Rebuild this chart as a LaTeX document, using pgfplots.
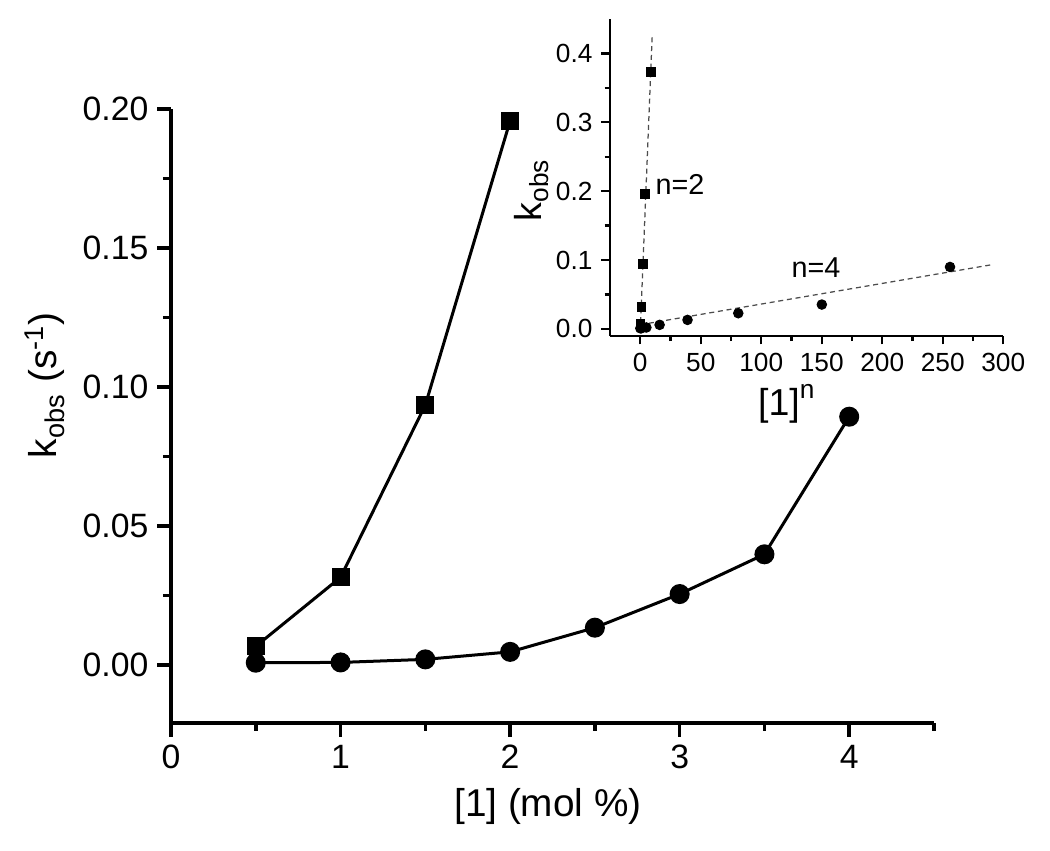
\documentclass[border=0pt]{standalone}
\usepackage{pgfplots}
\pgfplotsset{compat=1.18}
\usepackage{fontspec}
\setmainfont{Liberation Sans}

\begin{document}
\begin{tikzpicture}
\path[use as bounding box] (0,0) rectangle (420pt,340pt);

% ---------------- main axis ----------------
\begin{axis}[
  at={(68.4pt,50.9pt)}, anchor=south west,
  scale only axis, width=305.2pt, height=245.5pt,
  xmin=0, xmax=4.5, ymin=-0.0208, ymax=0.2,
  axis x line*=bottom, axis y line*=left,
  axis line style={line width=1.4pt,-},
  xtick={0,1,2,3,4}, minor xtick={0.5,1.5,2.5,3.5,4.5},
  ytick={0,0.05,0.1,0.15,0.2}, minor ytick={0.025,0.075,0.125,0.175},
  tick align=outside, major tick length=5.5pt, minor tick length=3.2pt,
  every tick/.style={line width=1.4pt,black},
  /pgf/number format/assume math mode=true,
  ticklabel style={font=\fontsize{13.5}{16}\selectfont},
  yticklabel style={/pgf/number format/.cd, fixed, fixed zerofill, precision=2},
  xlabel={[1] (mol \%)},
  ylabel={k\textsubscript{obs} (s\textsuperscript{-1})},
  label style={font=\fontsize{15.5}{18}\selectfont},
  xlabel style={at={(axis description cs:0.494,-0.136)}, anchor=center},
  ylabel style={at={(axis description cs:-0.165,0.55)}, anchor=center, rotate=0},
  clip=false,
]
\addplot[black, line width=1.2pt, mark=square*, mark size=3pt, mark options={solid}]
  coordinates {(0.5,0.0067) (1,0.0315) (1.5,0.0935) (2,0.1957)};
\addplot[black, line width=1.2pt, mark=*, mark size=3.4pt, mark options={solid}]
  coordinates {(0.5,0.0008) (1,0.0009) (1.5,0.0020) (2,0.0047) (2.5,0.0134) (3,0.0255) (3.5,0.0398) (4,0.0893)};
\end{axis}

% ---------------- inset axis ----------------
\begin{axis}[
  at={(244pt,205.7pt)}, anchor=south west,
  scale only axis, width=157.3pt, height=126.7pt,
  xmin=-25, xmax=300, ymin=-0.01, ymax=0.45,
  axis x line*=bottom, axis y line*=left,
  axis line style={line width=0.9pt,-},
  xtick={0,50,100,150,200,250,300}, minor xtick={25,75,125,175,225,275},
  ytick={0,0.1,0.2,0.3,0.4}, minor ytick={0.05,0.15,0.25,0.35},
  tick align=outside, major tick length=3.5pt, minor tick length=2.2pt,
  every tick/.style={line width=0.9pt,black},
  /pgf/number format/assume math mode=true,
  ticklabel style={font=\fontsize{10.5}{12}\selectfont},
  yticklabel style={/pgf/number format/.cd, fixed, fixed zerofill, precision=1},
  xlabel={[1]\raisebox{0.12em}{\textsuperscript{n}}},
  ylabel={k\textsubscript{obs}},
  label style={font=\fontsize{15}{18}\selectfont},
  xlabel style={at={(axis description cs:0.45,-0.215)}, anchor=center},
  ylabel style={at={(axis description cs:-0.20,0.46)}, anchor=center},
  clip=false,
]
\addplot[gray!60!black, line width=0.5pt, dash pattern=on 2pt off 1.5pt]
  coordinates {(0,-0.003) (9.9,0.427)};
\addplot[gray!60!black, line width=0.5pt, dash pattern=on 2pt off 1.5pt]
  coordinates {(0,0.006) (290,0.093)};
\addplot[only marks, black, mark=square*, mark size=1.75pt]
  coordinates {(0.25,0.0067) (1,0.0315) (2.25,0.094) (4,0.1955) (9,0.3725)};
\addplot[only marks, black, mark=*, mark size=1.9pt]
  coordinates {(0.0625,0.0008) (1,0.0009) (5.06,0.0020) (16,0.0058) (39.06,0.013) (81,0.0227) (150.06,0.0353) (256,0.0899)};
\node[font=\fontsize{11.5}{13}\selectfont] at (axis cs:32.8,0.21) {n=2};
\node[font=\fontsize{11.5}{13}\selectfont] at (axis cs:145.2,0.089) {n=4};
\end{axis}
\end{tikzpicture}
\end{document}
